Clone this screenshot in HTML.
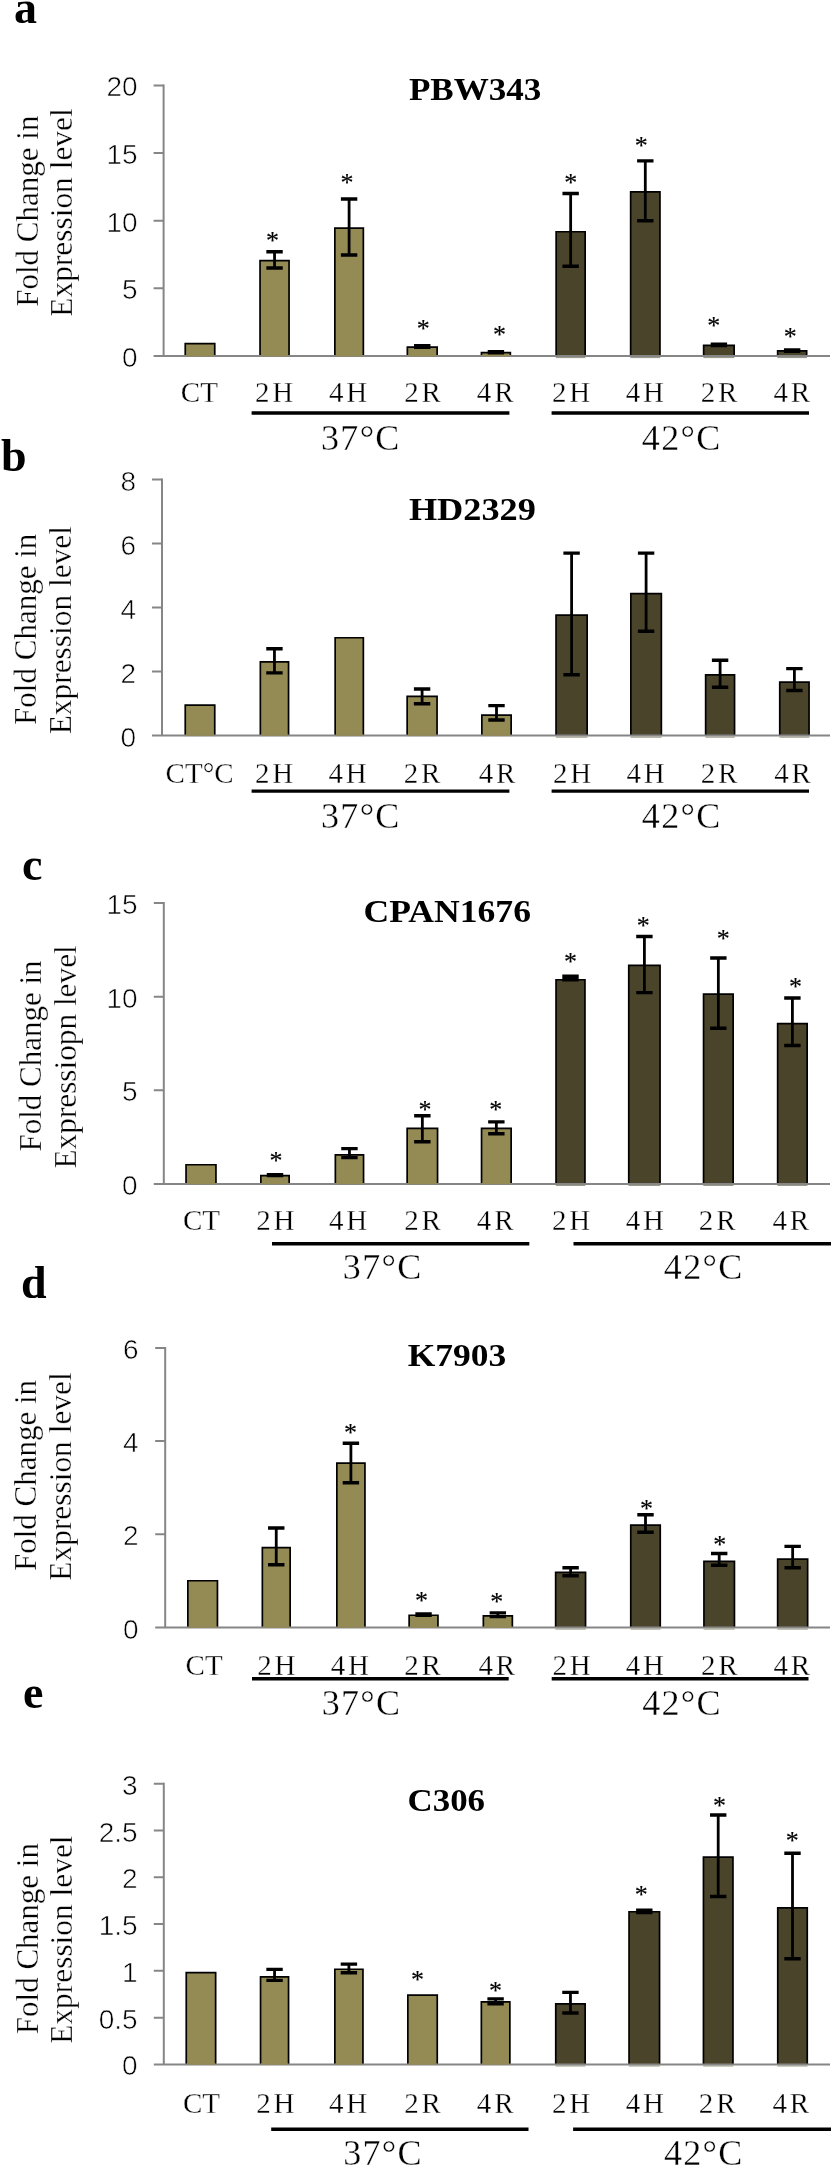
<!DOCTYPE html>
<html lang="en">
<head>
<meta charset="utf-8">
<title>Fold change in expression level</title>
<style>
html,body{margin:0;padding:0;background:#fff;}
body{width:834px;height:2167px;overflow:hidden;font-family:"Liberation Serif",serif;}
svg{display:block;will-change:transform;}
text{fill:#000;}
.t{stroke:#fff;stroke-width:.3px;}
.n{stroke:#fff;stroke-width:.6px;}
</style>
</head>
<body>
<svg width="834" height="2167" viewBox="0 0 834 2167">
<rect width="834" height="2167" fill="#fff"/>
<g>
<rect x="185.25" y="343.65" width="29.5" height="12.85" fill="#948A54"/>
<path d="M185.25 356V343.65H214.75V356" fill="none" stroke="#000" stroke-width="1.7" stroke-linejoin="miter"/>
<rect x="260.05" y="260.65" width="29" height="95.85" fill="#948A54"/>
<path d="M260.05 356V260.65H289.05V356" fill="none" stroke="#000" stroke-width="1.7" stroke-linejoin="miter"/>
<rect x="334.85" y="228.05" width="28.5" height="128.45" fill="#948A54"/>
<path d="M334.85 356V228.05H363.35V356" fill="none" stroke="#000" stroke-width="1.7" stroke-linejoin="miter"/>
<rect x="407.35" y="347.05" width="29.8" height="9.45" fill="#948A54"/>
<path d="M407.35 356V347.05H437.15V356" fill="none" stroke="#000" stroke-width="1.7" stroke-linejoin="miter"/>
<rect x="481.45" y="352.55" width="28.9" height="3.95" fill="#948A54"/>
<path d="M481.45 356V352.55H510.35V356" fill="none" stroke="#000" stroke-width="1.7" stroke-linejoin="miter"/>
<rect x="556.15" y="231.75" width="29" height="124.75" fill="#4A452A"/>
<path d="M556.15 356V231.75H585.15V356" fill="none" stroke="#000" stroke-width="1.7" stroke-linejoin="miter"/>
<rect x="630.65" y="191.85" width="29.3" height="164.65" fill="#4A452A"/>
<path d="M630.65 356V191.85H659.95V356" fill="none" stroke="#000" stroke-width="1.7" stroke-linejoin="miter"/>
<rect x="703.65" y="345.35" width="30.5" height="11.15" fill="#4A452A"/>
<path d="M703.65 356V345.35H734.15V356" fill="none" stroke="#000" stroke-width="1.7" stroke-linejoin="miter"/>
<rect x="777.65" y="350.85" width="29" height="5.65" fill="#4A452A"/>
<path d="M777.65 356V350.85H806.65V356" fill="none" stroke="#000" stroke-width="1.7" stroke-linejoin="miter"/>
<path d="M163.6 84.4V356M153.6 356H830" stroke="#868686" stroke-width="2" fill="none"/>
<rect x="186.1" y="354.8" width="27.8" height="1.5" fill="#948A54"/>
<rect x="260.9" y="354.8" width="27.3" height="1.5" fill="#948A54"/>
<rect x="335.7" y="354.8" width="26.8" height="1.5" fill="#948A54"/>
<rect x="408.2" y="354.8" width="28.1" height="1.5" fill="#948A54"/>
<rect x="482.3" y="354.8" width="27.2" height="1.5" fill="#948A54"/>
<rect x="555.9" y="357" width="29.5" height="1.1" fill="#9b9987"/>
<rect x="630.4" y="357" width="29.8" height="1.1" fill="#9b9987"/>
<rect x="703.4" y="357" width="31" height="1.1" fill="#9b9987"/>
<rect x="777.4" y="357" width="29.5" height="1.1" fill="#9b9987"/>
<text x="137.6" y="367" font-family="'Liberation Sans', sans-serif" font-size="28" text-anchor="end" class="n">0</text>
<text x="137.6" y="299.35" font-family="'Liberation Sans', sans-serif" font-size="28" text-anchor="end" class="n">5</text>
<text x="137.6" y="231.7" font-family="'Liberation Sans', sans-serif" font-size="28" text-anchor="end" class="n">10</text>
<text x="137.6" y="164.05" font-family="'Liberation Sans', sans-serif" font-size="28" text-anchor="end" class="n">15</text>
<text x="137.6" y="96.4" font-family="'Liberation Sans', sans-serif" font-size="28" text-anchor="end" class="n">20</text>
<path d="M153.6 288.35H163.6M153.6 220.7H163.6M153.6 153.05H163.6M153.6 85.4H163.6" stroke="#868686" stroke-width="2" fill="none"/>
<path d="M274.55 251.7V268" stroke="#000" stroke-width="2.8" fill="none"/>
<path d="M266.35 251.7H282.75M266.35 268H282.75" stroke="#000" stroke-width="3.4" fill="none"/>
<text x="272.6" y="249.09" font-family="'Liberation Serif', serif" font-size="26" text-anchor="middle" stroke="#000" stroke-width="0.15">*</text>
<path d="M349.1 199V255" stroke="#000" stroke-width="2.8" fill="none"/>
<path d="M340.9 199H357.3M340.9 255H357.3" stroke="#000" stroke-width="3.4" fill="none"/>
<text x="346.9" y="190.99" font-family="'Liberation Serif', serif" font-size="26" text-anchor="middle" stroke="#000" stroke-width="0.15">*</text>
<path d="M422.25 345.8V347.3" stroke="#000" stroke-width="2.8" fill="none"/>
<path d="M414.05 345.8H430.45M414.05 347.3H430.45" stroke="#000" stroke-width="3.4" fill="none"/>
<text x="423.2" y="337.49" font-family="'Liberation Serif', serif" font-size="26" text-anchor="middle" stroke="#000" stroke-width="0.15">*</text>
<path d="M495.9 351.6V352.9" stroke="#000" stroke-width="2.8" fill="none"/>
<path d="M487.7 351.6H504.1M487.7 352.9H504.1" stroke="#000" stroke-width="3.4" fill="none"/>
<text x="499.6" y="342.79" font-family="'Liberation Serif', serif" font-size="26" text-anchor="middle" stroke="#000" stroke-width="0.15">*</text>
<path d="M570.65 193.5V266.2" stroke="#000" stroke-width="2.8" fill="none"/>
<path d="M562.45 193.5H578.85M562.45 266.2H578.85" stroke="#000" stroke-width="3.4" fill="none"/>
<text x="570.7" y="190.89" font-family="'Liberation Serif', serif" font-size="26" text-anchor="middle" stroke="#000" stroke-width="0.15">*</text>
<path d="M645.3 160.9V220.7" stroke="#000" stroke-width="2.8" fill="none"/>
<path d="M637.1 160.9H653.5M637.1 220.7H653.5" stroke="#000" stroke-width="3.4" fill="none"/>
<text x="641.3" y="154.49" font-family="'Liberation Serif', serif" font-size="26" text-anchor="middle" stroke="#000" stroke-width="0.15">*</text>
<path d="M718.9 344.2V345.6" stroke="#000" stroke-width="2.8" fill="none"/>
<path d="M710.7 344.2H727.1M710.7 345.6H727.1" stroke="#000" stroke-width="3.4" fill="none"/>
<text x="713.8" y="333.99" font-family="'Liberation Serif', serif" font-size="26" text-anchor="middle" stroke="#000" stroke-width="0.15">*</text>
<path d="M792.15 349.9V351.2" stroke="#000" stroke-width="2.8" fill="none"/>
<path d="M783.95 349.9H800.35M783.95 351.2H800.35" stroke="#000" stroke-width="3.4" fill="none"/>
<text x="790.2" y="344.89" font-family="'Liberation Serif', serif" font-size="26" text-anchor="middle" stroke="#000" stroke-width="0.15">*</text>
<text x="199.4" y="401.5" font-family="'Liberation Serif', serif" font-size="29" text-anchor="middle" class="t">CT</text>
<text x="275.6" y="401.5" font-family="'Liberation Serif', serif" font-size="29" text-anchor="middle" class="t" letter-spacing="2.8">2H</text>
<text x="349.4" y="401.5" font-family="'Liberation Serif', serif" font-size="29" text-anchor="middle" class="t" letter-spacing="2.8">4H</text>
<text x="423.9" y="401.5" font-family="'Liberation Serif', serif" font-size="29" text-anchor="middle" class="t" letter-spacing="2.8">2R</text>
<text x="496.6" y="401.5" font-family="'Liberation Serif', serif" font-size="29" text-anchor="middle" class="t" letter-spacing="2.8">4R</text>
<text x="572.5" y="401.5" font-family="'Liberation Serif', serif" font-size="29" text-anchor="middle" class="t" letter-spacing="2.8">2H</text>
<text x="646.3" y="401.5" font-family="'Liberation Serif', serif" font-size="29" text-anchor="middle" class="t" letter-spacing="2.8">4H</text>
<text x="720.4" y="401.5" font-family="'Liberation Serif', serif" font-size="29" text-anchor="middle" class="t" letter-spacing="2.8">2R</text>
<text x="793.3" y="401.5" font-family="'Liberation Serif', serif" font-size="29" text-anchor="middle" class="t" letter-spacing="2.8">4R</text>
<path d="M251.6 413H509.4" stroke="#000" stroke-width="3.4" fill="none"/>
<path d="M551.6 413H809" stroke="#000" stroke-width="3.4" fill="none"/>
<text x="360.85" y="449.5" font-family="'Liberation Serif', serif" font-size="36" text-anchor="middle" class="t" letter-spacing="1.3">37°C</text>
<text x="681.65" y="449.5" font-family="'Liberation Serif', serif" font-size="36" text-anchor="middle" class="t" letter-spacing="1.3">42°C</text>
<text x="475.1" y="100" font-family="'Liberation Serif', serif" font-size="31" text-anchor="middle" font-weight="bold" textLength="132.4" lengthAdjust="spacingAndGlyphs">PBW343</text>
<text x="14" y="22.5" font-family="'Liberation Serif', serif" font-size="46" font-weight="bold">a</text>
<text transform="translate(37.6 211.2) rotate(-90)" font-family="'Liberation Serif', serif" font-size="31" text-anchor="middle" class="t">Fold Change in</text>
<text transform="translate(71.9 212.5) rotate(-90)" font-family="'Liberation Serif', serif" font-size="31" text-anchor="middle" class="t" textLength="208.3" lengthAdjust="spacingAndGlyphs">Expression level</text>
</g>
<g>
<rect x="185.25" y="705.15" width="29.5" height="30.95" fill="#948A54"/>
<path d="M185.25 735.6V705.15H214.75V735.6" fill="none" stroke="#000" stroke-width="1.7" stroke-linejoin="miter"/>
<rect x="260.35" y="661.85" width="28.2" height="74.25" fill="#948A54"/>
<path d="M260.35 735.6V661.85H288.55V735.6" fill="none" stroke="#000" stroke-width="1.7" stroke-linejoin="miter"/>
<rect x="335.15" y="637.75" width="28.2" height="98.35" fill="#948A54"/>
<path d="M335.15 735.6V637.75H363.35V735.6" fill="none" stroke="#000" stroke-width="1.7" stroke-linejoin="miter"/>
<rect x="407.15" y="696.35" width="29.9" height="39.75" fill="#948A54"/>
<path d="M407.15 735.6V696.35H437.05V735.6" fill="none" stroke="#000" stroke-width="1.7" stroke-linejoin="miter"/>
<rect x="481.85" y="715.05" width="29.3" height="21.05" fill="#948A54"/>
<path d="M481.85 735.6V715.05H511.15V735.6" fill="none" stroke="#000" stroke-width="1.7" stroke-linejoin="miter"/>
<rect x="556.05" y="615.05" width="31.1" height="121.05" fill="#4A452A"/>
<path d="M556.05 735.6V615.05H587.15V735.6" fill="none" stroke="#000" stroke-width="1.7" stroke-linejoin="miter"/>
<rect x="630.85" y="593.55" width="30.5" height="142.55" fill="#4A452A"/>
<path d="M630.85 735.6V593.55H661.35V735.6" fill="none" stroke="#000" stroke-width="1.7" stroke-linejoin="miter"/>
<rect x="705.65" y="674.85" width="28.9" height="61.25" fill="#4A452A"/>
<path d="M705.65 735.6V674.85H734.55V735.6" fill="none" stroke="#000" stroke-width="1.7" stroke-linejoin="miter"/>
<rect x="779.75" y="682.05" width="29.3" height="54.05" fill="#4A452A"/>
<path d="M779.75 735.6V682.05H809.05V735.6" fill="none" stroke="#000" stroke-width="1.7" stroke-linejoin="miter"/>
<path d="M162 478.5V735.6M152 735.6H830" stroke="#868686" stroke-width="2" fill="none"/>
<rect x="186.1" y="734.4" width="27.8" height="1.5" fill="#948A54"/>
<rect x="261.2" y="734.4" width="26.5" height="1.5" fill="#948A54"/>
<rect x="336" y="734.4" width="26.5" height="1.5" fill="#948A54"/>
<rect x="408" y="734.4" width="28.2" height="1.5" fill="#948A54"/>
<rect x="482.7" y="734.4" width="27.6" height="1.5" fill="#948A54"/>
<rect x="555.8" y="736.6" width="31.6" height="1.1" fill="#9b9987"/>
<rect x="630.6" y="736.6" width="31" height="1.1" fill="#9b9987"/>
<rect x="705.4" y="736.6" width="29.4" height="1.1" fill="#9b9987"/>
<rect x="779.5" y="736.6" width="29.8" height="1.1" fill="#9b9987"/>
<text x="136" y="746.6" font-family="'Liberation Sans', sans-serif" font-size="28" text-anchor="end" class="n">0</text>
<text x="136" y="682.58" font-family="'Liberation Sans', sans-serif" font-size="28" text-anchor="end" class="n">2</text>
<text x="136" y="618.55" font-family="'Liberation Sans', sans-serif" font-size="28" text-anchor="end" class="n">4</text>
<text x="136" y="554.52" font-family="'Liberation Sans', sans-serif" font-size="28" text-anchor="end" class="n">6</text>
<text x="136" y="490.5" font-family="'Liberation Sans', sans-serif" font-size="28" text-anchor="end" class="n">8</text>
<path d="M152 671.58H162M152 607.55H162M152 543.52H162M152 479.5H162" stroke="#868686" stroke-width="2" fill="none"/>
<path d="M274.45 648.8V672.9" stroke="#000" stroke-width="2.8" fill="none"/>
<path d="M266.25 648.8H282.65M266.25 672.9H282.65" stroke="#000" stroke-width="3.4" fill="none"/>
<path d="M422.1 689V703.8" stroke="#000" stroke-width="2.8" fill="none"/>
<path d="M413.9 689H430.3M413.9 703.8H430.3" stroke="#000" stroke-width="3.4" fill="none"/>
<path d="M496.5 705.6V720" stroke="#000" stroke-width="2.8" fill="none"/>
<path d="M488.3 705.6H504.7M488.3 720H504.7" stroke="#000" stroke-width="3.4" fill="none"/>
<path d="M571.6 553.1V674.7" stroke="#000" stroke-width="2.8" fill="none"/>
<path d="M563.4 553.1H579.8M563.4 674.7H579.8" stroke="#000" stroke-width="3.4" fill="none"/>
<path d="M646.1 553.1V631.2" stroke="#000" stroke-width="2.8" fill="none"/>
<path d="M637.9 553.1H654.3M637.9 631.2H654.3" stroke="#000" stroke-width="3.4" fill="none"/>
<path d="M720.1 660.3V687.3" stroke="#000" stroke-width="2.8" fill="none"/>
<path d="M711.9 660.3H728.3M711.9 687.3H728.3" stroke="#000" stroke-width="3.4" fill="none"/>
<path d="M794.4 668.6V690.5" stroke="#000" stroke-width="2.8" fill="none"/>
<path d="M786.2 668.6H802.6M786.2 690.5H802.6" stroke="#000" stroke-width="3.4" fill="none"/>
<text x="199.6" y="782.8" font-family="'Liberation Serif', serif" font-size="29" text-anchor="middle" class="t">CT°C</text>
<text x="275.5" y="782.8" font-family="'Liberation Serif', serif" font-size="29" text-anchor="middle" class="t" letter-spacing="2.8">2H</text>
<text x="348.9" y="782.8" font-family="'Liberation Serif', serif" font-size="29" text-anchor="middle" class="t" letter-spacing="2.8">4H</text>
<text x="423.4" y="782.8" font-family="'Liberation Serif', serif" font-size="29" text-anchor="middle" class="t" letter-spacing="2.8">2R</text>
<text x="498.5" y="782.8" font-family="'Liberation Serif', serif" font-size="29" text-anchor="middle" class="t" letter-spacing="2.8">4R</text>
<text x="573.6" y="782.8" font-family="'Liberation Serif', serif" font-size="29" text-anchor="middle" class="t" letter-spacing="2.8">2H</text>
<text x="647" y="782.8" font-family="'Liberation Serif', serif" font-size="29" text-anchor="middle" class="t" letter-spacing="2.8">4H</text>
<text x="720.4" y="782.8" font-family="'Liberation Serif', serif" font-size="29" text-anchor="middle" class="t" letter-spacing="2.8">2R</text>
<text x="794" y="782.8" font-family="'Liberation Serif', serif" font-size="29" text-anchor="middle" class="t" letter-spacing="2.8">4R</text>
<path d="M251.6 791.1H509.4" stroke="#000" stroke-width="3.4" fill="none"/>
<path d="M551.6 791.1H809" stroke="#000" stroke-width="3.4" fill="none"/>
<text x="360.85" y="827.8" font-family="'Liberation Serif', serif" font-size="36" text-anchor="middle" class="t" letter-spacing="1.3">37°C</text>
<text x="681.65" y="827.8" font-family="'Liberation Serif', serif" font-size="36" text-anchor="middle" class="t" letter-spacing="1.3">42°C</text>
<text x="472.4" y="519.7" font-family="'Liberation Serif', serif" font-size="32.5" text-anchor="middle" font-weight="bold" textLength="127" lengthAdjust="spacingAndGlyphs">HD2329</text>
<text x="1" y="470.7" font-family="'Liberation Serif', serif" font-size="46" font-weight="bold">b</text>
<text transform="translate(35.5 629.3) rotate(-90)" font-family="'Liberation Serif', serif" font-size="31" text-anchor="middle" class="t">Fold Change in</text>
<text transform="translate(70.5 630.2) rotate(-90)" font-family="'Liberation Serif', serif" font-size="31" text-anchor="middle" class="t" textLength="208.3" lengthAdjust="spacingAndGlyphs">Expression level</text>
</g>
<g>
<rect x="186.05" y="1164.75" width="29.9" height="19.65" fill="#948A54"/>
<path d="M186.05 1183.9V1164.75H215.95V1183.9" fill="none" stroke="#000" stroke-width="1.7" stroke-linejoin="miter"/>
<rect x="260.85" y="1175.65" width="28.3" height="8.75" fill="#948A54"/>
<path d="M260.85 1183.9V1175.65H289.15V1183.9" fill="none" stroke="#000" stroke-width="1.7" stroke-linejoin="miter"/>
<rect x="335.35" y="1154.85" width="28.2" height="29.55" fill="#948A54"/>
<path d="M335.35 1183.9V1154.85H363.55V1183.9" fill="none" stroke="#000" stroke-width="1.7" stroke-linejoin="miter"/>
<rect x="407.15" y="1128.45" width="30.4" height="55.95" fill="#948A54"/>
<path d="M407.15 1183.9V1128.45H437.55V1183.9" fill="none" stroke="#000" stroke-width="1.7" stroke-linejoin="miter"/>
<rect x="481.55" y="1128.45" width="29.6" height="55.95" fill="#948A54"/>
<path d="M481.55 1183.9V1128.45H511.15V1183.9" fill="none" stroke="#000" stroke-width="1.7" stroke-linejoin="miter"/>
<rect x="556.05" y="979.75" width="28.9" height="204.65" fill="#4A452A"/>
<path d="M556.05 1183.9V979.75H584.95V1183.9" fill="none" stroke="#000" stroke-width="1.7" stroke-linejoin="miter"/>
<rect x="628.75" y="965.35" width="31.3" height="219.05" fill="#4A452A"/>
<path d="M628.75 1183.9V965.35H660.05V1183.9" fill="none" stroke="#000" stroke-width="1.7" stroke-linejoin="miter"/>
<rect x="703.55" y="994.15" width="29.6" height="190.25" fill="#4A452A"/>
<path d="M703.55 1183.9V994.15H733.15V1183.9" fill="none" stroke="#000" stroke-width="1.7" stroke-linejoin="miter"/>
<rect x="777.65" y="1023.65" width="29.5" height="160.75" fill="#4A452A"/>
<path d="M777.65 1183.9V1023.65H807.15V1183.9" fill="none" stroke="#000" stroke-width="1.7" stroke-linejoin="miter"/>
<path d="M163.8 902V1183.9M153.8 1183.9H830" stroke="#868686" stroke-width="2" fill="none"/>
<rect x="186.9" y="1182.7" width="28.2" height="1.5" fill="#948A54"/>
<rect x="261.7" y="1182.7" width="26.6" height="1.5" fill="#948A54"/>
<rect x="336.2" y="1182.7" width="26.5" height="1.5" fill="#948A54"/>
<rect x="408" y="1182.7" width="28.7" height="1.5" fill="#948A54"/>
<rect x="482.4" y="1182.7" width="27.9" height="1.5" fill="#948A54"/>
<rect x="555.8" y="1184.9" width="29.4" height="1.1" fill="#9b9987"/>
<rect x="628.5" y="1184.9" width="31.8" height="1.1" fill="#9b9987"/>
<rect x="703.3" y="1184.9" width="30.1" height="1.1" fill="#9b9987"/>
<rect x="777.4" y="1184.9" width="30" height="1.1" fill="#9b9987"/>
<text x="137.6" y="1194.9" font-family="'Liberation Sans', sans-serif" font-size="28" text-anchor="end" class="n">0</text>
<text x="137.6" y="1101.27" font-family="'Liberation Sans', sans-serif" font-size="28" text-anchor="end" class="n">5</text>
<text x="137.6" y="1007.63" font-family="'Liberation Sans', sans-serif" font-size="28" text-anchor="end" class="n">10</text>
<text x="137.6" y="914" font-family="'Liberation Sans', sans-serif" font-size="28" text-anchor="end" class="n">15</text>
<path d="M153.8 1090.27H163.8M153.8 996.63H163.8M153.8 903H163.8" stroke="#868686" stroke-width="2" fill="none"/>
<path d="M275 1174.7V1175.6" stroke="#000" stroke-width="2.8" fill="none"/>
<path d="M266.8 1174.7H283.2M266.8 1175.6H283.2" stroke="#000" stroke-width="3.4" fill="none"/>
<text x="275.9" y="1169.49" font-family="'Liberation Serif', serif" font-size="26" text-anchor="middle" stroke="#000" stroke-width="0.15">*</text>
<path d="M349.45 1148.6V1157.6" stroke="#000" stroke-width="2.8" fill="none"/>
<path d="M341.25 1148.6H357.65M341.25 1157.6H357.65" stroke="#000" stroke-width="3.4" fill="none"/>
<path d="M422.35 1115.8V1141.7" stroke="#000" stroke-width="2.8" fill="none"/>
<path d="M414.15 1115.8H430.55M414.15 1141.7H430.55" stroke="#000" stroke-width="3.4" fill="none"/>
<text x="425" y="1117.99" font-family="'Liberation Serif', serif" font-size="26" text-anchor="middle" stroke="#000" stroke-width="0.15">*</text>
<path d="M496.35 1121.9V1133.7" stroke="#000" stroke-width="2.8" fill="none"/>
<path d="M488.15 1121.9H504.55M488.15 1133.7H504.55" stroke="#000" stroke-width="3.4" fill="none"/>
<text x="495.8" y="1117.99" font-family="'Liberation Serif', serif" font-size="26" text-anchor="middle" stroke="#000" stroke-width="0.15">*</text>
<path d="M570.5 976.3V979.7" stroke="#000" stroke-width="2.8" fill="none"/>
<path d="M562.3 976.3H578.7M562.3 979.7H578.7" stroke="#000" stroke-width="3.4" fill="none"/>
<text x="570.6" y="970.29" font-family="'Liberation Serif', serif" font-size="26" text-anchor="middle" stroke="#000" stroke-width="0.15">*</text>
<path d="M644.4 936.5V992.6" stroke="#000" stroke-width="2.8" fill="none"/>
<path d="M636.2 936.5H652.6M636.2 992.6H652.6" stroke="#000" stroke-width="3.4" fill="none"/>
<text x="643.3" y="934.39" font-family="'Liberation Serif', serif" font-size="26" text-anchor="middle" stroke="#000" stroke-width="0.15">*</text>
<path d="M718.35 958V1028.2" stroke="#000" stroke-width="2.8" fill="none"/>
<path d="M710.15 958H726.55M710.15 1028.2H726.55" stroke="#000" stroke-width="3.4" fill="none"/>
<text x="723.2" y="946.99" font-family="'Liberation Serif', serif" font-size="26" text-anchor="middle" stroke="#000" stroke-width="0.15">*</text>
<path d="M792.4 998V1045.5" stroke="#000" stroke-width="2.8" fill="none"/>
<path d="M784.2 998H800.6M784.2 1045.5H800.6" stroke="#000" stroke-width="3.4" fill="none"/>
<text x="795.5" y="995.49" font-family="'Liberation Serif', serif" font-size="26" text-anchor="middle" stroke="#000" stroke-width="0.15">*</text>
<text x="201.5" y="1230" font-family="'Liberation Serif', serif" font-size="29" text-anchor="middle" class="t">CT</text>
<text x="276.7" y="1230" font-family="'Liberation Serif', serif" font-size="29" text-anchor="middle" class="t" letter-spacing="2.8">2H</text>
<text x="349.4" y="1230" font-family="'Liberation Serif', serif" font-size="29" text-anchor="middle" class="t" letter-spacing="2.8">4H</text>
<text x="423.9" y="1230" font-family="'Liberation Serif', serif" font-size="29" text-anchor="middle" class="t" letter-spacing="2.8">2R</text>
<text x="496.6" y="1230" font-family="'Liberation Serif', serif" font-size="29" text-anchor="middle" class="t" letter-spacing="2.8">4R</text>
<text x="572.5" y="1230" font-family="'Liberation Serif', serif" font-size="29" text-anchor="middle" class="t" letter-spacing="2.8">2H</text>
<text x="646.3" y="1230" font-family="'Liberation Serif', serif" font-size="29" text-anchor="middle" class="t" letter-spacing="2.8">4H</text>
<text x="718.6" y="1230" font-family="'Liberation Serif', serif" font-size="29" text-anchor="middle" class="t" letter-spacing="2.8">2R</text>
<text x="792.2" y="1230" font-family="'Liberation Serif', serif" font-size="29" text-anchor="middle" class="t" letter-spacing="2.8">4R</text>
<path d="M272 1243.7H529.3" stroke="#000" stroke-width="3.4" fill="none"/>
<path d="M573.5 1243.7H831" stroke="#000" stroke-width="3.4" fill="none"/>
<text x="382.65" y="1278.8" font-family="'Liberation Serif', serif" font-size="36" text-anchor="middle" class="t" letter-spacing="1.3">37°C</text>
<text x="703.65" y="1278.8" font-family="'Liberation Serif', serif" font-size="36" text-anchor="middle" class="t" letter-spacing="1.3">42°C</text>
<text x="447.2" y="922.4" font-family="'Liberation Serif', serif" font-size="31" text-anchor="middle" font-weight="bold" textLength="167.5" lengthAdjust="spacingAndGlyphs">CPAN1676</text>
<text x="22" y="879.5" font-family="'Liberation Serif', serif" font-size="46" font-weight="bold">c</text>
<text transform="translate(41.3 1056) rotate(-90)" font-family="'Liberation Serif', serif" font-size="31" text-anchor="middle" class="t">Fold Change in</text>
<text transform="translate(75.8 1056.9) rotate(-90)" font-family="'Liberation Serif', serif" font-size="31" text-anchor="middle" class="t" textLength="223.2" lengthAdjust="spacingAndGlyphs">Expressiopn level</text>
</g>
<g>
<rect x="187.85" y="1580.75" width="29.6" height="47.25" fill="#948A54"/>
<path d="M187.85 1627.5V1580.75H217.45V1627.5" fill="none" stroke="#000" stroke-width="1.7" stroke-linejoin="miter"/>
<rect x="262.35" y="1547.65" width="27.8" height="80.35" fill="#948A54"/>
<path d="M262.35 1627.5V1547.65H290.15V1627.5" fill="none" stroke="#000" stroke-width="1.7" stroke-linejoin="miter"/>
<rect x="336.85" y="1463.05" width="28.1" height="164.95" fill="#948A54"/>
<path d="M336.85 1627.5V1463.05H364.95V1627.5" fill="none" stroke="#000" stroke-width="1.7" stroke-linejoin="miter"/>
<rect x="409.15" y="1615.25" width="28.8" height="12.75" fill="#948A54"/>
<path d="M409.15 1627.5V1615.25H437.95V1627.5" fill="none" stroke="#000" stroke-width="1.7" stroke-linejoin="miter"/>
<rect x="483.35" y="1615.85" width="29" height="12.15" fill="#948A54"/>
<path d="M483.35 1627.5V1615.85H512.35V1627.5" fill="none" stroke="#000" stroke-width="1.7" stroke-linejoin="miter"/>
<rect x="555.65" y="1572.35" width="29.9" height="55.65" fill="#4A452A"/>
<path d="M555.65 1627.5V1572.35H585.55V1627.5" fill="none" stroke="#000" stroke-width="1.7" stroke-linejoin="miter"/>
<rect x="630.75" y="1525.05" width="29.5" height="102.95" fill="#4A452A"/>
<path d="M630.75 1627.5V1525.05H660.25V1627.5" fill="none" stroke="#000" stroke-width="1.7" stroke-linejoin="miter"/>
<rect x="703.95" y="1561.45" width="30.5" height="66.55" fill="#4A452A"/>
<path d="M703.95 1627.5V1561.45H734.45V1627.5" fill="none" stroke="#000" stroke-width="1.7" stroke-linejoin="miter"/>
<rect x="777.65" y="1559.15" width="30" height="68.85" fill="#4A452A"/>
<path d="M777.65 1627.5V1559.15H807.65V1627.5" fill="none" stroke="#000" stroke-width="1.7" stroke-linejoin="miter"/>
<path d="M165.2 1346.9V1627.5M155.2 1627.5H830" stroke="#868686" stroke-width="2" fill="none"/>
<rect x="188.7" y="1626.3" width="27.9" height="1.5" fill="#948A54"/>
<rect x="263.2" y="1626.3" width="26.1" height="1.5" fill="#948A54"/>
<rect x="337.7" y="1626.3" width="26.4" height="1.5" fill="#948A54"/>
<rect x="410" y="1626.3" width="27.1" height="1.5" fill="#948A54"/>
<rect x="484.2" y="1626.3" width="27.3" height="1.5" fill="#948A54"/>
<rect x="555.4" y="1628.5" width="30.4" height="1.1" fill="#9b9987"/>
<rect x="630.5" y="1628.5" width="30" height="1.1" fill="#9b9987"/>
<rect x="703.7" y="1628.5" width="31" height="1.1" fill="#9b9987"/>
<rect x="777.4" y="1628.5" width="30.5" height="1.1" fill="#9b9987"/>
<text x="138.6" y="1638.5" font-family="'Liberation Sans', sans-serif" font-size="28" text-anchor="end" class="n">0</text>
<text x="138.6" y="1545.3" font-family="'Liberation Sans', sans-serif" font-size="28" text-anchor="end" class="n">2</text>
<text x="138.6" y="1452.1" font-family="'Liberation Sans', sans-serif" font-size="28" text-anchor="end" class="n">4</text>
<text x="138.6" y="1358.9" font-family="'Liberation Sans', sans-serif" font-size="28" text-anchor="end" class="n">6</text>
<path d="M155.2 1534.3H165.2M155.2 1441.1H165.2M155.2 1347.9H165.2" stroke="#868686" stroke-width="2" fill="none"/>
<path d="M276.25 1528V1564.7" stroke="#000" stroke-width="2.8" fill="none"/>
<path d="M268.05 1528H284.45M268.05 1564.7H284.45" stroke="#000" stroke-width="3.4" fill="none"/>
<path d="M350.9 1443.2V1482.7" stroke="#000" stroke-width="2.8" fill="none"/>
<path d="M342.7 1443.2H359.1M342.7 1482.7H359.1" stroke="#000" stroke-width="3.4" fill="none"/>
<text x="350.4" y="1440.59" font-family="'Liberation Serif', serif" font-size="26" text-anchor="middle" stroke="#000" stroke-width="0.15">*</text>
<path d="M423.55 1613.9V1615.3" stroke="#000" stroke-width="2.8" fill="none"/>
<path d="M415.35 1613.9H431.75M415.35 1615.3H431.75" stroke="#000" stroke-width="3.4" fill="none"/>
<text x="421.6" y="1608.99" font-family="'Liberation Serif', serif" font-size="26" text-anchor="middle" stroke="#000" stroke-width="0.15">*</text>
<path d="M497.85 1612.9V1616.6" stroke="#000" stroke-width="2.8" fill="none"/>
<path d="M489.65 1612.9H506.05M489.65 1616.6H506.05" stroke="#000" stroke-width="3.4" fill="none"/>
<text x="496.7" y="1609.79" font-family="'Liberation Serif', serif" font-size="26" text-anchor="middle" stroke="#000" stroke-width="0.15">*</text>
<path d="M570.6 1567.7V1575.7" stroke="#000" stroke-width="2.8" fill="none"/>
<path d="M562.4 1567.7H578.8M562.4 1575.7H578.8" stroke="#000" stroke-width="3.4" fill="none"/>
<path d="M645.5 1514.8V1532.3" stroke="#000" stroke-width="2.8" fill="none"/>
<path d="M637.3 1514.8H653.7M637.3 1532.3H653.7" stroke="#000" stroke-width="3.4" fill="none"/>
<text x="646.4" y="1517.19" font-family="'Liberation Serif', serif" font-size="26" text-anchor="middle" stroke="#000" stroke-width="0.15">*</text>
<path d="M719.2 1553.5V1565.3" stroke="#000" stroke-width="2.8" fill="none"/>
<path d="M711 1553.5H727.4M711 1565.3H727.4" stroke="#000" stroke-width="3.4" fill="none"/>
<text x="719.7" y="1553.09" font-family="'Liberation Serif', serif" font-size="26" text-anchor="middle" stroke="#000" stroke-width="0.15">*</text>
<path d="M792.65 1546.4V1567.7" stroke="#000" stroke-width="2.8" fill="none"/>
<path d="M784.45 1546.4H800.85M784.45 1567.7H800.85" stroke="#000" stroke-width="3.4" fill="none"/>
<text x="204.1" y="1674.8" font-family="'Liberation Serif', serif" font-size="29" text-anchor="middle" class="t">CT</text>
<text x="277.8" y="1674.8" font-family="'Liberation Serif', serif" font-size="29" text-anchor="middle" class="t" letter-spacing="2.8">2H</text>
<text x="351.2" y="1674.8" font-family="'Liberation Serif', serif" font-size="29" text-anchor="middle" class="t" letter-spacing="2.8">4H</text>
<text x="423.9" y="1674.8" font-family="'Liberation Serif', serif" font-size="29" text-anchor="middle" class="t" letter-spacing="2.8">2R</text>
<text x="498.2" y="1674.8" font-family="'Liberation Serif', serif" font-size="29" text-anchor="middle" class="t" letter-spacing="2.8">4R</text>
<text x="573" y="1674.8" font-family="'Liberation Serif', serif" font-size="29" text-anchor="middle" class="t" letter-spacing="2.8">2H</text>
<text x="646.3" y="1674.8" font-family="'Liberation Serif', serif" font-size="29" text-anchor="middle" class="t" letter-spacing="2.8">4H</text>
<text x="720.8" y="1674.8" font-family="'Liberation Serif', serif" font-size="29" text-anchor="middle" class="t" letter-spacing="2.8">2R</text>
<text x="793.3" y="1674.8" font-family="'Liberation Serif', serif" font-size="29" text-anchor="middle" class="t" letter-spacing="2.8">4R</text>
<path d="M252 1678.7H508.7" stroke="#000" stroke-width="3.4" fill="none"/>
<path d="M551.7 1678.7H808.5" stroke="#000" stroke-width="3.4" fill="none"/>
<text x="361.45" y="1714.8" font-family="'Liberation Serif', serif" font-size="36" text-anchor="middle" class="t" letter-spacing="1.3">37°C</text>
<text x="682.05" y="1714.8" font-family="'Liberation Serif', serif" font-size="36" text-anchor="middle" class="t" letter-spacing="1.3">42°C</text>
<text x="456.9" y="1366.3" font-family="'Liberation Serif', serif" font-size="32" text-anchor="middle" font-weight="bold" textLength="98.5" lengthAdjust="spacingAndGlyphs">K7903</text>
<text x="21" y="1297.7" font-family="'Liberation Serif', serif" font-size="46" font-weight="bold">d</text>
<text transform="translate(35.5 1475.5) rotate(-90)" font-family="'Liberation Serif', serif" font-size="31" text-anchor="middle" class="t">Fold Change in</text>
<text transform="translate(70.5 1476.5) rotate(-90)" font-family="'Liberation Serif', serif" font-size="31" text-anchor="middle" class="t" textLength="208.3" lengthAdjust="spacingAndGlyphs">Expression level</text>
</g>
<g>
<rect x="186.25" y="1972.65" width="29.4" height="92.25" fill="#948A54"/>
<path d="M186.25 2064.4V1972.65H215.65V2064.4" fill="none" stroke="#000" stroke-width="1.7" stroke-linejoin="miter"/>
<rect x="260.55" y="1976.95" width="28" height="87.95" fill="#948A54"/>
<path d="M260.55 2064.4V1976.95H288.55V2064.4" fill="none" stroke="#000" stroke-width="1.7" stroke-linejoin="miter"/>
<rect x="334.85" y="1969.25" width="28.1" height="95.65" fill="#948A54"/>
<path d="M334.85 2064.4V1969.25H362.95V2064.4" fill="none" stroke="#000" stroke-width="1.7" stroke-linejoin="miter"/>
<rect x="407.85" y="1995.15" width="29.4" height="69.75" fill="#948A54"/>
<path d="M407.85 2064.4V1995.15H437.25V2064.4" fill="none" stroke="#000" stroke-width="1.7" stroke-linejoin="miter"/>
<rect x="481.35" y="2001.95" width="28.5" height="62.95" fill="#948A54"/>
<path d="M481.35 2064.4V2001.95H509.85V2064.4" fill="none" stroke="#000" stroke-width="1.7" stroke-linejoin="miter"/>
<rect x="555.75" y="2003.85" width="29.4" height="61.05" fill="#4A452A"/>
<path d="M555.75 2064.4V2003.85H585.15V2064.4" fill="none" stroke="#000" stroke-width="1.7" stroke-linejoin="miter"/>
<rect x="629.05" y="1911.75" width="30.5" height="153.15" fill="#4A452A"/>
<path d="M629.05 2064.4V1911.75H659.55V2064.4" fill="none" stroke="#000" stroke-width="1.7" stroke-linejoin="miter"/>
<rect x="703.45" y="1857.05" width="29.5" height="207.85" fill="#4A452A"/>
<path d="M703.45 2064.4V1857.05H732.95V2064.4" fill="none" stroke="#000" stroke-width="1.7" stroke-linejoin="miter"/>
<rect x="777.75" y="1907.85" width="29.5" height="157.05" fill="#4A452A"/>
<path d="M777.75 2064.4V1907.85H807.25V2064.4" fill="none" stroke="#000" stroke-width="1.7" stroke-linejoin="miter"/>
<path d="M163.8 1782.8V2064.4M153.8 2064.4H830" stroke="#868686" stroke-width="2" fill="none"/>
<rect x="187.1" y="2063.2" width="27.7" height="1.5" fill="#948A54"/>
<rect x="261.4" y="2063.2" width="26.3" height="1.5" fill="#948A54"/>
<rect x="335.7" y="2063.2" width="26.4" height="1.5" fill="#948A54"/>
<rect x="408.7" y="2063.2" width="27.7" height="1.5" fill="#948A54"/>
<rect x="482.2" y="2063.2" width="26.8" height="1.5" fill="#948A54"/>
<rect x="555.5" y="2065.4" width="29.9" height="1.1" fill="#9b9987"/>
<rect x="628.8" y="2065.4" width="31" height="1.1" fill="#9b9987"/>
<rect x="703.2" y="2065.4" width="30" height="1.1" fill="#9b9987"/>
<rect x="777.5" y="2065.4" width="30" height="1.1" fill="#9b9987"/>
<text x="137.6" y="2075.4" font-family="'Liberation Sans', sans-serif" font-size="28" text-anchor="end" class="n">0</text>
<text x="137.6" y="2028.63" font-family="'Liberation Sans', sans-serif" font-size="28" text-anchor="end" class="n">0.5</text>
<text x="137.6" y="1981.87" font-family="'Liberation Sans', sans-serif" font-size="28" text-anchor="end" class="n">1</text>
<text x="137.6" y="1935.1" font-family="'Liberation Sans', sans-serif" font-size="28" text-anchor="end" class="n">1.5</text>
<text x="137.6" y="1888.33" font-family="'Liberation Sans', sans-serif" font-size="28" text-anchor="end" class="n">2</text>
<text x="137.6" y="1841.57" font-family="'Liberation Sans', sans-serif" font-size="28" text-anchor="end" class="n">2.5</text>
<text x="137.6" y="1794.8" font-family="'Liberation Sans', sans-serif" font-size="28" text-anchor="end" class="n">3</text>
<path d="M153.8 2017.63H163.8M153.8 1970.87H163.8M153.8 1924.1H163.8M153.8 1877.33H163.8M153.8 1830.57H163.8M153.8 1783.8H163.8" stroke="#868686" stroke-width="2" fill="none"/>
<path d="M274.55 1969.4V1980.4" stroke="#000" stroke-width="2.8" fill="none"/>
<path d="M266.35 1969.4H282.75M266.35 1980.4H282.75" stroke="#000" stroke-width="3.4" fill="none"/>
<path d="M348.9 1964.1V1972.8" stroke="#000" stroke-width="2.8" fill="none"/>
<path d="M340.7 1964.1H357.1M340.7 1972.8H357.1" stroke="#000" stroke-width="3.4" fill="none"/>
<text x="417.5" y="1987.59" font-family="'Liberation Serif', serif" font-size="26" text-anchor="middle" stroke="#000" stroke-width="0.15">*</text>
<path d="M495.6 1998.9V2003.7" stroke="#000" stroke-width="2.8" fill="none"/>
<path d="M487.4 1998.9H503.8M487.4 2003.7H503.8" stroke="#000" stroke-width="3.4" fill="none"/>
<text x="495.4" y="1998.59" font-family="'Liberation Serif', serif" font-size="26" text-anchor="middle" stroke="#000" stroke-width="0.15">*</text>
<path d="M570.45 1992.4V2013" stroke="#000" stroke-width="2.8" fill="none"/>
<path d="M562.25 1992.4H578.65M562.25 2013H578.65" stroke="#000" stroke-width="3.4" fill="none"/>
<path d="M644.3 1910.2V1912.5" stroke="#000" stroke-width="2.8" fill="none"/>
<path d="M636.1 1910.2H652.5M636.1 1912.5H652.5" stroke="#000" stroke-width="3.4" fill="none"/>
<text x="641.2" y="1902.59" font-family="'Liberation Serif', serif" font-size="26" text-anchor="middle" stroke="#000" stroke-width="0.15">*</text>
<path d="M718.2 1815V1896.5" stroke="#000" stroke-width="2.8" fill="none"/>
<path d="M710 1815H726.4M710 1896.5H726.4" stroke="#000" stroke-width="3.4" fill="none"/>
<text x="719.4" y="1813.89" font-family="'Liberation Serif', serif" font-size="26" text-anchor="middle" stroke="#000" stroke-width="0.15">*</text>
<path d="M792.5 1853.3V1958.8" stroke="#000" stroke-width="2.8" fill="none"/>
<path d="M784.3 1853.3H800.7M784.3 1958.8H800.7" stroke="#000" stroke-width="3.4" fill="none"/>
<text x="792.3" y="1848.89" font-family="'Liberation Serif', serif" font-size="26" text-anchor="middle" stroke="#000" stroke-width="0.15">*</text>
<text x="201.5" y="2113" font-family="'Liberation Serif', serif" font-size="29" text-anchor="middle" class="t">CT</text>
<text x="276.7" y="2113" font-family="'Liberation Serif', serif" font-size="29" text-anchor="middle" class="t" letter-spacing="2.8">2H</text>
<text x="349.4" y="2113" font-family="'Liberation Serif', serif" font-size="29" text-anchor="middle" class="t" letter-spacing="2.8">4H</text>
<text x="423.9" y="2113" font-family="'Liberation Serif', serif" font-size="29" text-anchor="middle" class="t" letter-spacing="2.8">2R</text>
<text x="496.6" y="2113" font-family="'Liberation Serif', serif" font-size="29" text-anchor="middle" class="t" letter-spacing="2.8">4R</text>
<text x="572.5" y="2113" font-family="'Liberation Serif', serif" font-size="29" text-anchor="middle" class="t" letter-spacing="2.8">2H</text>
<text x="646.3" y="2113" font-family="'Liberation Serif', serif" font-size="29" text-anchor="middle" class="t" letter-spacing="2.8">4H</text>
<text x="718.6" y="2113" font-family="'Liberation Serif', serif" font-size="29" text-anchor="middle" class="t" letter-spacing="2.8">2R</text>
<text x="792.2" y="2113" font-family="'Liberation Serif', serif" font-size="29" text-anchor="middle" class="t" letter-spacing="2.8">4R</text>
<path d="M271.2 2129.3H528.5" stroke="#000" stroke-width="3.4" fill="none"/>
<path d="M573.1 2129.3H831" stroke="#000" stroke-width="3.4" fill="none"/>
<text x="382.95" y="2164.6" font-family="'Liberation Serif', serif" font-size="36" text-anchor="middle" class="t" letter-spacing="1.3">37°C</text>
<text x="703.75" y="2164.6" font-family="'Liberation Serif', serif" font-size="36" text-anchor="middle" class="t" letter-spacing="1.3">42°C</text>
<text x="446.3" y="1811.1" font-family="'Liberation Serif', serif" font-size="32" text-anchor="middle" font-weight="bold" textLength="77.5" lengthAdjust="spacingAndGlyphs">C306</text>
<text x="23" y="1708.2" font-family="'Liberation Serif', serif" font-size="46" font-weight="bold">e</text>
<text transform="translate(37.7 1938.6) rotate(-90)" font-family="'Liberation Serif', serif" font-size="31" text-anchor="middle" class="t">Fold Change in</text>
<text transform="translate(72.4 1939.6) rotate(-90)" font-family="'Liberation Serif', serif" font-size="31" text-anchor="middle" class="t" textLength="208.3" lengthAdjust="spacingAndGlyphs">Expression level</text>
</g>
</svg>
</body>
</html>
